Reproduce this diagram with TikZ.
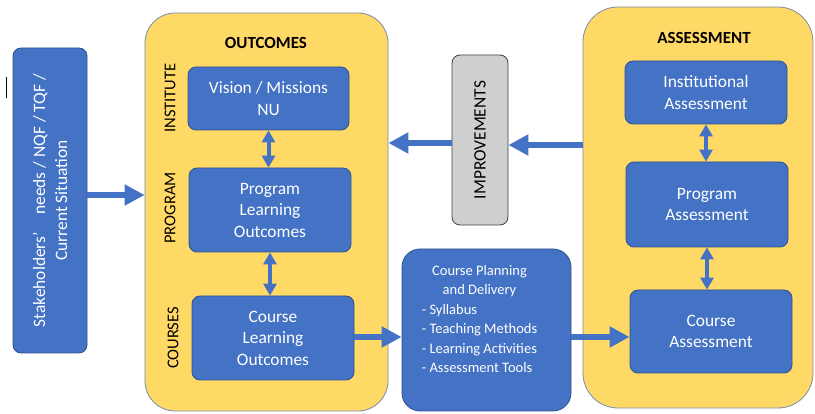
\documentclass[tikz,border=0pt]{standalone}
\usepackage{fontspec}
\setmainfont{Carlito}
\usetikzlibrary{arrows.meta}
\definecolor{blu}{HTML}{4472C4}
\definecolor{bludark}{HTML}{2F528F}
\definecolor{yel}{HTML}{FFD966}
\definecolor{contb}{HTML}{7A8CA8}
\definecolor{grayfill}{HTML}{CFCFCF}
\definecolor{graydark}{HTML}{404040}
\begin{document}
\begin{tikzpicture}[x=1pt,y=-1pt,
  bluebox/.style={draw=bludark, line width=0.8pt, fill=blu, rounded corners=8pt,
    text=white, align=center, font=\fontsize{17.4}{21.5}\selectfont, inner sep=0pt},
  container/.style={draw=contb, fill=yel, line width=0.8pt, inner sep=0pt},
  sidelabel/.style={rotate=90, font=\fontsize{16.5}{18}\selectfont, text=black},
  headlabel/.style={font=\bfseries\fontsize{17}{19}\selectfont, text=black},
  bigarrow/.style={draw=blu, line width=6pt, -{Triangle[length=20pt,width=20pt]}},
  dblarrow/.style={draw=blu, line width=4pt, {Triangle[length=12pt,width=13pt]}-{Triangle[length=12pt,width=13pt]}}
]
\useasboundingbox (0,0) rectangle (815,414);
% stray mark
\coordinate (m1) at (6,77);
\coordinate (m2) at (6,98);
\draw[black, line width=1pt] (m1) -- (m2);

% containers
\node[container, rounded corners=30pt, minimum width=243pt, minimum height=398pt] (outc) at (266.5,212) {};
\node[container, rounded corners=35pt, minimum width=230pt, minimum height=401pt] (asmt) at (698,207.5) {};
\node[headlabel] (outct) at (266,43) {OUTCOMES};
\node[headlabel] (asmtt) at (704,38) {ASSESSMENT};

% stakeholders
\node[bluebox, minimum width=74pt, minimum height=305pt] (stake) at (50,200.5) {};
\node[rotate=90, text=white, align=center, font=\fontsize{17.4}{22}\selectfont] (staket) at (stake.center) {Stakeholders’\quad needs / NQF / TQF /\\Current Situation};

% outcomes boxes
\node[bluebox, minimum width=161pt, minimum height=63pt] (vision) at (268.5,98.5) {Vision / Missions\\NU};
\node[bluebox, minimum width=162pt, minimum height=84pt] (plo) at (270,210) {Program\\Learning\\Outcomes};
\node[bluebox, minimum width=162pt, minimum height=84pt] (clo) at (273,338) {Course\\Learning\\Outcomes};
\node[sidelabel] (lins) at (170,98) {INSTITUTE};
\node[sidelabel] (lprog) at (170,208) {PROGRAM};
\node[sidelabel] (lcour) at (173,338) {COURSES};

% improvements
\node[draw=graydark, fill=grayfill, line width=0.8pt, rounded corners=8pt, minimum width=56pt, minimum height=170pt, inner sep=0pt] (impr) at (480,140) {};
\node[rotate=90, font=\fontsize{17.4}{19}\selectfont] (imprt) at (impr.center) {IMPROVEMENTS};

% planning
\node[bluebox, rounded corners=18pt, minimum width=169pt, minimum height=162pt] (plan) at (486.5,330) {};
\node[anchor=north west, text=white, inner sep=0pt, font=\fontsize{14.5}{19.5}\selectfont] (plant) at ([xshift=20pt,yshift=-13pt]plan.north west)
  {\begin{tabular}{@{}l@{}}\multicolumn{1}{@{}c@{}}{Course Planning}\\\multicolumn{1}{@{}c@{}}{and Delivery}\\- Syllabus\\- Teaching Methods\\- Learning Activities\\- Assessment Tools\end{tabular}};

% assessment boxes
\node[bluebox, minimum width=162pt, minimum height=63pt] (ia) at (706,92.5) {Institutional\\Assessment};
\node[bluebox, minimum width=162pt, minimum height=85pt] (pa) at (707,204.5) {Program\\Assessment};
\node[bluebox, minimum width=162pt, minimum height=83pt] (ca) at (711,331.5) {Course\\Assessment};

% arrows
\coordinate (a1) at ([yshift=5.5pt]stake.east);
\draw[bigarrow] (a1) -- (a1 -| outc.west);
\coordinate (a2) at ([yshift=-3pt]impr.west);
\draw[bigarrow] (a2) -- (a2 -| outc.east);
\coordinate (a3) at ([yshift=-5pt]impr.east);
\draw[bigarrow] (a3 -| asmt.west) -- (a3);
\coordinate (a4) at ([yshift=1pt]clo.east);
\draw[bigarrow] (a4) -- (a4 -| plan.west);
\coordinate (a5) at ([yshift=-5.5pt]ca.west);
\draw[bigarrow] (a5 -| plan.east) -- (a5);

\draw[dblarrow] (vision.south) -- (vision.south |- plo.north);
\draw[dblarrow] (plo.south) -- (plo.south |- clo.north);
\draw[dblarrow] (ia.south) -- (ia.south |- pa.north);
\draw[dblarrow] (pa.south) -- (pa.south |- ca.north);
\end{tikzpicture}
\end{document}
